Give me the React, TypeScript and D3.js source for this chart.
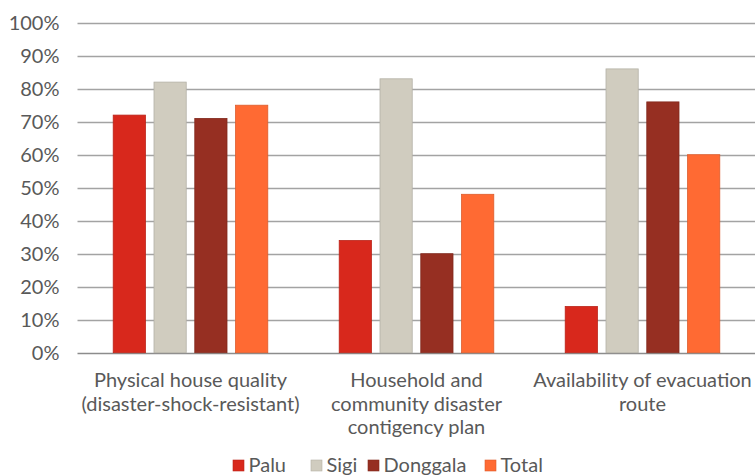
import React, { useEffect, useRef } from "react";
import * as d3 from "d3";

const categories = [
  "Physical house quality (disaster-shock-resistant)",
  "Household and community disaster contigency plan",
  "Availability of evacuation route",
];
const categoryLines = [
  ["Physical house quality", "(disaster-shock-resistant)"],
  ["Household and", "community disaster", "contigency plan"],
  ["Availability of evacuation", "route"],
];
const seriesNames = ["Palu", "Sigi", "Donggala", "Total"];
const palu = [72, 34, 14];
const sigi = [82, 83, 86];
const donggala = [71, 30, 76];
const total = [75, 48, 60];
const seriesValues = [palu, sigi, donggala, total];
const colors = ["#D8281C", "#D0CCBF", "#962F22", "#FF6A33"];
const yTicks = [0, 10, 20, 30, 40, 50, 60, 70, 80, 90, 100];

const W = 755;
const H = 475;
const FONT = "Lato, 'Open Sans', sans-serif";
const TEXT = "#595959";
const FS = 20;

export default function App() {
  const ref = useRef<SVGSVGElement>(null);
  useEffect(() => {
    const svg = d3.select(ref.current);
    svg.selectAll("*").remove();

    const y = d3.scaleLinear().domain([0, 100]).range([352.7, 22.7]);
    const x0 = d3.scaleBand<string>().domain(categories).range([77.5, 755.5]).paddingInner(0).paddingOuter(0);
    const bw = x0.bandwidth();
    const x1 = d3
      .scaleBand<string>()
      .domain(seriesNames)
      .range([bw * 0.158, bw * 0.842])
      .paddingInner(0.21)
      .paddingOuter(0);

    svg
      .append("g")
      .selectAll("line")
      .data(yTicks)
      .join("line")
      .attr("x1", 77.5)
      .attr("x2", W)
      .attr("y1", (d) => Math.round(y(d)) + 0.5)
      .attr("y2", (d) => Math.round(y(d)) + 0.5)
      .attr("stroke", (d) => (d === 0 ? "#8c8c8c" : "#a3a3a3"))
      .attr("stroke-width", 1.4);

    svg
      .append("g")
      .selectAll("text")
      .data(yTicks)
      .join("text")
      .attr("x", 59.5)
      .attr("y", (d) => y(d) + 7)
      .attr("text-anchor", "end")
      .attr("font-family", FONT)
      .attr("font-size", FS)
      .attr("fill", TEXT)
      .text((d) => `${d}%`);

    const groups = svg
      .append("g")
      .selectAll("g")
      .data(categories)
      .join("g")
      .attr("transform", (c) => `translate(${x0(c)},0)`);
    groups
      .selectAll("rect")
      .data((c) => seriesNames.map((s, si) => ({ s, si, v: seriesValues[si][categories.indexOf(c)] })))
      .join("rect")
      .attr("x", (d) => x1(d.s)!)
      .attr("width", x1.bandwidth())
      .attr("y", (d) => y(d.v))
      .attr("height", (d) => y(0) - y(d.v))
      .attr("fill", (d) => colors[d.si])
      .attr("stroke", (d) => d3.color(colors[d.si])!.darker(0.4).formatHex())
      .attr("stroke-width", 0.8);

    const lab = svg
      .append("g")
      .selectAll("text")
      .data(categories)
      .join("text")
      .attr("x", (c) => x0(c)! + bw / 2)
      .attr("y", 387)
      .attr("text-anchor", "middle")
      .attr("font-family", FONT)
      .attr("font-size", FS)
      .attr("fill", TEXT);
    lab
      .selectAll("tspan")
      .data((c) => categoryLines[categories.indexOf(c)])
      .join("tspan")
      .attr("x", function () {
        return (this.parentNode as SVGTextElement).getAttribute("x");
      })
      .attr("dy", (d, i) => (i === 0 ? 0 : 23.5))
      .text((d) => d);

    const legendX = [233, 311, 368, 485];
    const leg = svg
      .append("g")
      .selectAll("g")
      .data(seriesNames)
      .join("g")
      .attr("transform", (d, i) => `translate(${legendX[i]},0)`);
    leg
      .append("rect")
      .attr("x", 0)
      .attr("y", 460)
      .attr("width", 11)
      .attr("height", 11)
      .attr("fill", (d, i) => colors[i])
      .attr("stroke", (d, i) => d3.color(colors[i])!.darker(0.4).formatHex())
      .attr("stroke-width", 0.6);
    leg
      .append("text")
      .attr("x", 15.5)
      .attr("y", 471.5)
      .attr("font-family", FONT)
      .attr("font-size", FS)
      .attr("fill", TEXT)
      .text((d) => d);
  }, []);

  return (
    <svg
      ref={ref}
      width={W}
      height={H}
      style={{ position: "absolute", left: 0, top: 0, background: "#fff" }}
    />
  );
}
